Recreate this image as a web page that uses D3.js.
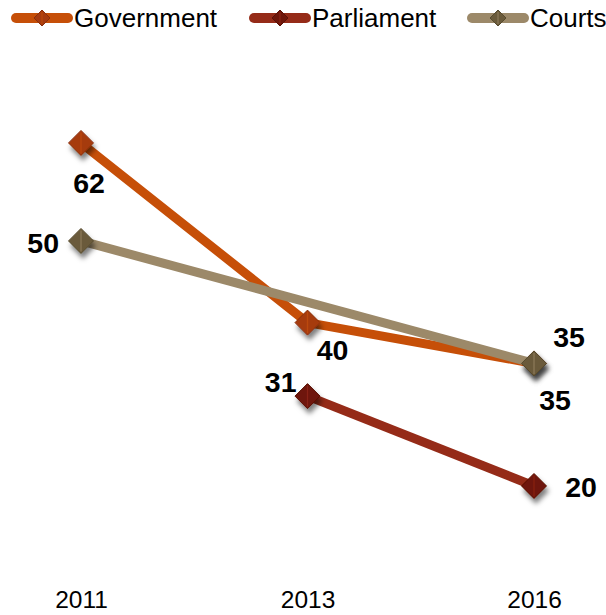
<!DOCTYPE html>
<html><head><meta charset="utf-8">
<script src="https://cdn.jsdelivr.net/npm/d3@7"></script>
<style>html,body{margin:0;padding:0;background:#fff;}</style>
</head><body>
<script>
const years = ["2011", "2013", "2016"];
const seriesNames = ["Government", "Parliament", "Courts"];
const government = [62, 40, 35];
const parliament = [null, 31, 20];
const courts = [50, null, 35];
const lineColors = ["#c64f08", "#952b18", "#9c8969"];
const markerColors = ["#a63b10", "#6e1509", "#6a5a3a"];
const markerStroke = ["#8a2f0c", "#5a1005", "#564a2e"];

const W = 606, H = 615;
const svg = d3.select("body").append("svg").attr("width", W).attr("height", H);
const defs = svg.append("defs");
const f = defs.append("filter").attr("id", "sh").attr("x", "-50%").attr("y", "-50%").attr("width", "200%").attr("height", "200%");
f.append("feDropShadow").attr("dx", 2).attr("dy", 5).attr("stdDeviation", 2.5).attr("flood-color", "#000").attr("flood-opacity", 0.5);

const x = d3.scalePoint().domain(years).range([81, 534]);
const y = d3.scaleLinear().domain([0, 70]).range([649.3, 77.6]);

const data = [government, parliament, courts];

// x axis labels
const xAxis = d3.axisBottom(x).tickSize(0).tickPadding(0);
const gx = svg.append("g").attr("transform", "translate(0,591)").call(xAxis);
gx.select(".domain").remove();
gx.selectAll("text").attr("font-family", "Liberation Sans, Arial, sans-serif").attr("font-size", 24.5).attr("fill", "#000").attr("dy", "0.71em");

function diamond(g, cx, cy, r, i, withShadow) {
  const p = `M${cx},${cy - r}L${cx + r},${cy}L${cx},${cy + r}L${cx - r},${cy}Z`;
  const dg = g.append("g");
  if (withShadow) dg.attr("filter", "url(#sh)");
  dg.append("path").attr("d", p).attr("fill", markerColors[i]).attr("stroke", markerStroke[i]).attr("stroke-width", 1);
  dg.append("line").attr("x1", cx).attr("x2", cx).attr("y1", cy - r + 2).attr("y2", cy + r - 2)
    .attr("stroke", lineColors[i]).attr("stroke-width", 1.2).attr("opacity", 0.7);
}

const line = d3.line().defined(d => d.v != null).x(d => x(d.year)).y(d => y(d.v));

data.forEach((vals, i) => {
  const pts = years.map((yr, j) => ({year: yr, v: vals[j]}));
  const g = svg.append("g");
  g.append("path").datum(pts.filter(d => d.v != null)).attr("d", line)
    .attr("fill", "none").attr("stroke", lineColors[i]).attr("stroke-width", 9).attr("stroke-linejoin", "round");
  pts.filter(d => d.v != null).forEach(d => diamond(g, x(d.year), y(d.v), 12.5, i, true));
});

// data labels: [series index, year index, dx, dy]
const labelPos = [
  [0, 0, 8, 50, "middle"],
  [0, 1, 25, 37, "middle"],
  [0, 2, 21, 47, "middle"],
  [1, 1, -11, -4, "end"],
  [1, 2, 47, 11, "middle"],
  [2, 0, -22, 12, "end"],
  [2, 2, 35, -16, "middle"]
];
labelPos.forEach(([s, j, dx, dy, anchor]) => {
  const v = data[s][j];
  svg.append("text").attr("x", x(years[j]) + dx).attr("y", y(v) + dy)
    .attr("text-anchor", anchor).attr("font-family", "Liberation Sans, Arial, sans-serif")
    .attr("font-weight", "bold").attr("font-size", 28.5).attr("fill", "#000").text(v);
});

// legend
const legendX = [12, 250, 468];
seriesNames.forEach((name, i) => {
  const g = svg.append("g");
  const lx = legendX[i];
  g.append("line").attr("x1", lx + 4).attr("x2", lx + 56).attr("y1", 18).attr("y2", 18)
    .attr("stroke", lineColors[i]).attr("stroke-width", 10).attr("stroke-linecap", "round");
  diamond(g, lx + 30, 18, 8, i, false);
  g.append("text").attr("x", lx + 62).attr("y", 27).attr("font-family", "Liberation Sans, Arial, sans-serif")
    .attr("font-size", 26).attr("fill", "#000").text(name);
});
</script>
</body></html>
